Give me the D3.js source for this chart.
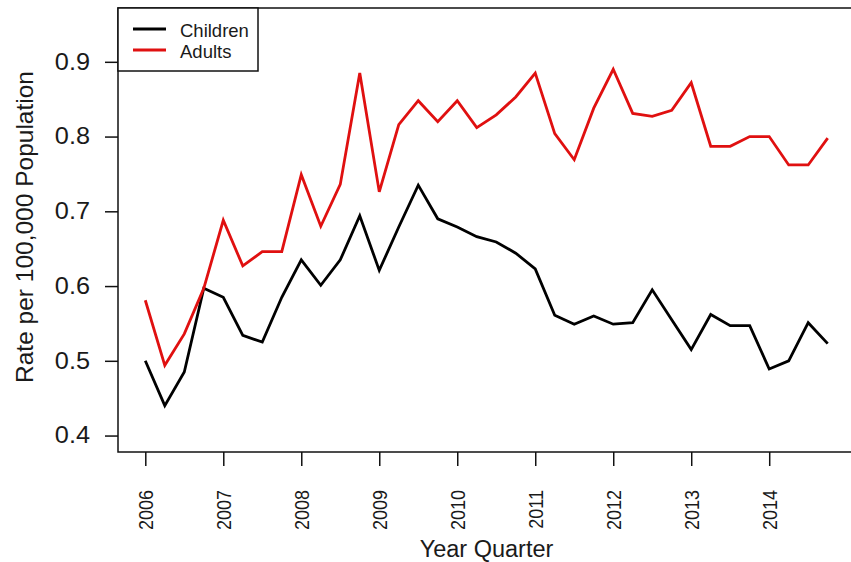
<!DOCTYPE html>
<html>
<head>
<meta charset="utf-8">
<script src="https://cdn.jsdelivr.net/npm/d3@7"></script>
<style>
  html, body { margin: 0; padding: 0; background: #fff; }
  svg { display: block; font-family: "Liberation Sans", Arial, sans-serif; }
</style>
</head>
<body>
<svg id="chart" width="851" height="562"></svg>
<script>
// Quarterly rates, 2006 Q1 through 2014 Q4
const startYear = 2006;
const children = [0.500, 0.440, 0.485, 0.597, 0.585, 0.534, 0.525, 0.585, 0.635, 0.601, 0.635, 0.694,
                  0.621, 0.679, 0.735, 0.690, 0.679, 0.666, 0.659, 0.644, 0.623, 0.561, 0.549, 0.560,
                  0.549, 0.551, 0.595, 0.555, 0.515, 0.562, 0.547, 0.547, 0.489, 0.500, 0.551, 0.523];
const adults   = [0.581, 0.494, 0.536, 0.597, 0.688, 0.627, 0.646, 0.646, 0.749, 0.680, 0.736, 0.885,
                  0.726, 0.816, 0.848, 0.820, 0.848, 0.812, 0.829, 0.853, 0.885, 0.804, 0.769, 0.838,
                  0.890, 0.831, 0.827, 0.835, 0.872, 0.787, 0.787, 0.800, 0.800, 0.762, 0.762, 0.798];
const yearTicks = [2006, 2007, 2008, 2009, 2010, 2011, 2012, 2013, 2014];
const rateTicks = [0.4, 0.5, 0.6, 0.7, 0.8, 0.9];
const seriesNames = ["Children", "Adults"];
const seriesColors = ["#000000", "#e01010"];

const svg = d3.select("#chart");
const plotLeft = 118, plotRight = 855, plotTop = 8, plotBottom = 452;
const textColor = "#1a1a1a";

// time value for each quarter
const t = children.map((_, i) => startYear + i / 4);

const x = d3.scaleLinear().domain([2005.65, 2015.1]).range([plotLeft, plotRight]);
const y = d3.scaleLinear().domain([0.378, 0.972]).range([plotBottom, plotTop]);

// plot frame
svg.append("rect")
  .attr("x", plotLeft).attr("y", plotTop)
  .attr("width", plotRight - plotLeft).attr("height", plotBottom - plotTop)
  .attr("fill", "none").attr("stroke", "#111").attr("stroke-width", 1.5);

// y axis
const yAxis = svg.append("g")
  .attr("transform", `translate(${plotLeft},0)`)
  .call(d3.axisLeft(y).tickValues(rateTicks).tickFormat(d3.format(".1f")).tickSize(13).tickPadding(15));
yAxis.select(".domain").remove();
yAxis.selectAll(".tick line").attr("stroke", "#111").attr("stroke-width", 1.5);
yAxis.selectAll(".tick text")
  .attr("fill", textColor)
  .style("font-size", "23px")
  .attr("transform", "scale(1.1,1)")
  .attr("x", -28 / 1.1);

// x axis with rotated year labels
const xAxis = svg.append("g")
  .attr("transform", `translate(0,${plotBottom})`)
  .call(d3.axisBottom(x).tickValues(yearTicks).tickFormat(d3.format("d")).tickSize(14));
xAxis.select(".domain").remove();
xAxis.selectAll(".tick line").attr("stroke", "#111").attr("stroke-width", 1.5);
xAxis.selectAll(".tick text")
  .attr("fill", textColor)
  .style("font-size", "18px")
  .attr("text-anchor", "end")
  .attr("dominant-baseline", "central")
  .attr("x", 0).attr("y", 0).attr("dy", null)
  .attr("transform", "translate(0,38) rotate(-90) scale(1,1.15)");

// series lines
const line = d3.line().x((d, i) => x(t[i])).y(d => y(d));
[children, adults].forEach((vals, k) => {
  svg.append("path")
    .datum(vals)
    .attr("fill", "none")
    .attr("stroke", seriesColors[k])
    .attr("stroke-width", 2.8)
    .attr("stroke-linejoin", "miter")
    .attr("d", line);
});

// axis titles
svg.append("text")
  .attr("x", (plotLeft + plotRight) / 2).attr("y", 557)
  .attr("text-anchor", "middle")
  .attr("fill", textColor)
  .style("font-size", "23.5px")
  .text("Year Quarter");

svg.append("text")
  .attr("transform", `translate(33,${(plotTop + plotBottom) / 2 - 3}) rotate(-90)`)
  .attr("text-anchor", "middle")
  .attr("fill", textColor)
  .style("font-size", "24.5px")
  .text("Rate per 100,000 Population");

// legend
const legend = svg.append("g");
legend.append("rect")
  .attr("x", plotLeft).attr("y", plotTop)
  .attr("width", 140).attr("height", 63)
  .attr("fill", "#fff").attr("stroke", "#111").attr("stroke-width", 1.5);
seriesNames.forEach((name, k) => {
  const ly = 30 + k * 21;
  legend.append("line")
    .attr("x1", 133).attr("x2", 166).attr("y1", ly - 1).attr("y2", ly - 1)
    .attr("stroke", seriesColors[k]).attr("stroke-width", 2.8);
  legend.append("text")
    .attr("x", 180).attr("y", ly)
    .attr("dominant-baseline", "central")
    .attr("fill", textColor)
    .style("font-size", "18.5px")
    .text(name);
});
</script>
</body>
</html>
